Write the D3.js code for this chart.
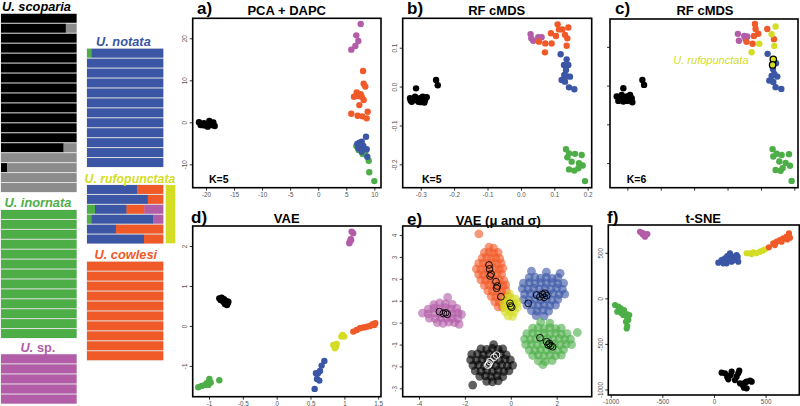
<!DOCTYPE html>
<html><head><meta charset="utf-8">
<script src="https://cdn.jsdelivr.net/npm/d3@7"></script>
<style>body{margin:0;background:#fff}svg{display:block}</style>
</head><body><svg id="c" width="800" height="406"></svg>
<script>
const COL = {k:"#000000", g:"#8c8c8c", G:"#4dae48", b:"#3a56a5", o:"#f05a28", p:"#b35ca8", y:"#d4dd25", Y:"#d4dd25"};
const K = ["k","g","G","b","o","p"];

// ---- STRUCTURE (admixture) rows: fractions in order black, gray, green, blue, orange, purple
const scopariaQ = [[1,0,0,0,0,0],[0.86,0.14,0,0,0,0],[1,0,0,0,0,0],[1,0,0,0,0,0],[1,0,0,0,0,0],[1,0,0,0,0,0],[1,0,0,0,0,0],[1,0,0,0,0,0],[1,0,0,0,0,0],[1,0,0,0,0,0],[1,0,0,0,0,0],[1,0,0,0,0,0],[1,0,0,0,0,0],[0.83,0.17,0,0,0,0],[0,1,0,0,0,0],[0.08,0.92,0,0,0,0],[0,1,0,0,0,0],[0,1,0,0,0,0]];
const inornataQ = Array.from({length:13}, () => [0,0,1,0,0,0]);
const spQ = Array.from({length:5}, () => [0,0,0,0,0,1]);
const notataQ = [[0,0,0.06,0.94,0,0]].concat(Array.from({length:11}, () => [0,0,0,1,0,0]));
const rufoQ = [[0,0,0,0.66,0.34,0],[0,0,0,0.80,0.20,0],[0,0,0.105,0.415,0.235,0.245],[0,0,0.06,0.81,0,0.13],[0,0,0,0.38,0.62,0],[0,0,0,0.75,0.25,0]];
const cowlesiQ = Array.from({length:10}, () => [0,0,0,0,1,0]);

// ---- a) PCA + DAPC
const pcaPts = [
 [-21.25,0,"k"],[-20.77,-0.4,"k"],[-20.36,-0.24,"k"],[-19.88,-0.4,"k"],[-19.4,0.31,"k"],[-18.99,-0.64,"k"],[-18.69,-0.06,"k"],[-18.45,-0.88,"k"],[-20.17,-0.72,"k"],[-20.95,-0.64,"k"],[-19.29,-0.4,"k"],[-19.7,-1.04,"k"],[-20.48,-0.72,"k"],
 [7.57,23.4,"p"],[6.79,20.7,"p"],[7.15,19.36,"p"],[6.62,18.17,"p"],[5.9,17.3,"p"],
 [7.99,12.2,"o"],[8.10,9.2,"o"],[8.4,8.5,"o"],[6.86,7.1,"o"],[7.57,6.7,"o"],[6.38,6.1,"o"],[7.2,6.26,"o"],[7.75,6.1,"o"],[8.1,5.3,"o"],[7.33,4.1,"o"],[5.9,2.05,"o"],[7.03,1.57,"o"],[7.87,1.42,"o"],[8.82,2.52,"o"],[8.64,0.94,"o"],
 [6.79,-5.64,"G"],[7.2,-6.6,"G"],[7.93,-7.55,"G"],[8.4,-7.07,"G"],[9.0,-9.14,"G"],[9.1,-11.9,"G"],[10.0,-14.0,"G"],[7.63,-6.36,"G"],
 [8.52,-3.43,"b"],[7.75,-4.62,"b"],[7.33,-4.85,"b"],[6.97,-5.17,"b"],[8.04,-5.64,"b"],[8.64,-6.43,"b"],[7.75,-7,"b"],[7.33,-5.8,"b"],[8.75,-8.19,"b"],[7.15,-6.2,"b"]
];
const pcaXTicks = [-20,-15,-10,-5,0,5,10];
const pcaYTicks = [-10,0,10,20];

// ---- b) RF cMDS K=5
const cmdsPts = [
 [-0.332,-0.030,"k"],[-0.324,-0.0345,"k"],[-0.317,-0.026,"k"],[-0.310,-0.033,"k"],[-0.302,-0.030,"k"],[-0.294,-0.026,"k"],[-0.287,-0.0345,"k"],[-0.289,-0.041,"k"],[-0.307,-0.039,"k"],[-0.327,-0.039,"k"],[-0.314,-0.0045,"k"],[-0.320,-0.0345,"k"],[-0.297,-0.036,"k"],[-0.282,-0.0275,"k"],[-0.254,0.017,"k"],[-0.249,0.0033,"k"],[-0.330,-0.036,"k"],[-0.300,-0.040,"k"],
 [0.029,0.135,"p"],[0.037,0.118,"p"],[0.052,0.127,"p"],[0.062,0.127,"p"],[0.031,0.124,"p"],
 [0.110,0.160,"o"],[0.114,0.147,"o"],[0.090,0.137,"o"],[0.105,0.130,"o"],[0.054,0.1155,"o"],[0.073,0.111,"o"],[0.092,0.111,"o"],[0.072,0.088,"o"],[0.124,0.147,"o"],[0.132,0.133,"o"],[0.142,0.152,"o"],[0.139,0.124,"o"],[0.137,0.105,"o"],
 [0.119,0.083,"b"],[0.137,0.070,"b"],[0.129,0.0555,"b"],[0.142,0.0555,"b"],[0.135,0.0427,"b"],[0.130,0.030,"b"],[0.147,0.0255,"b"],[0.137,0.027,"b"],[0.122,0.017,"b"],[0.132,0.0127,"b"],[0.144,-0.002,"b"],[0.160,-0.007,"b"],[0.130,0.021,"b"],
 [0.135,-0.161,"G"],[0.144,-0.172,"G"],[0.162,-0.173,"G"],[0.182,-0.176,"G"],[0.139,-0.182,"G"],[0.152,-0.193,"G"],[0.174,-0.197,"G"],[0.185,-0.203,"G"],[0.144,-0.213,"G"],[0.160,-0.216,"G"],[0.172,-0.210,"G"],[0.192,-0.243,"G"]
];
const cmdsXTicks = [-0.3,-0.2,-0.1,0.0,0.1,0.2];
const cmdsYTicks = [-0.2,-0.1,0.0,0.1];

// ---- c) RF cMDS K=6
const cmds6Pts = [
 [-0.332,-0.0283,"k"],[-0.324,-0.035,"k"],[-0.317,-0.024,"k"],[-0.309,-0.0326,"k"],[-0.302,-0.0283,"k"],[-0.294,-0.037,"k"],[-0.287,-0.0326,"k"],[-0.285,-0.043,"k"],[-0.327,-0.0395,"k"],[-0.312,-0.041,"k"],[-0.300,-0.0395,"k"],[-0.312,-0.0068,"k"],[-0.255,0.0147,"k"],[-0.250,0.0018,"k"],[-0.319,-0.030,"k"],[-0.292,-0.024,"k"],
 [0.031,0.1336,"p"],[0.034,0.116,"p"],[0.050,0.128,"p"],[0.059,0.127,"p"],[0.054,0.120,"p"],
 [0.082,0.159,"o"],[0.084,0.146,"o"],[0.092,0.134,"o"],[0.079,0.128,"o"],[0.057,0.113,"o"],[0.075,0.108,"o"],[0.119,0.146,"o"],[0.139,0.120,"o"],
 [0.144,0.1526,"y"],[0.132,0.1327,"y"],[0.140,0.1026,"y"],[0.095,0.108,"y"],[0.072,0.086,"y"],
 [0.120,0.082,"b"],[0.145,0.058,"b"],[0.136,0.043,"b"],[0.140,0.030,"b"],[0.149,0.0233,"b"],[0.132,0.025,"b"],[0.125,0.013,"b"],[0.137,0.0096,"b"],[0.144,-0.004,"b"],[0.161,-0.0085,"b"],
 [0.137,0.068,"Y"],[0.135,0.0535,"Y"],
 [0.135,-0.164,"G"],[0.147,-0.176,"G"],[0.162,-0.179,"G"],[0.184,-0.177,"G"],[0.137,-0.183,"G"],[0.155,-0.196,"G"],[0.174,-0.200,"G"],[0.187,-0.207,"G"],[0.144,-0.218,"G"],[0.159,-0.220,"G"],[0.165,-0.213,"G"],[0.192,-0.246,"G"]
];

// ---- d) VAE
const vaePts = [
 [1.107,2.36,"p"],[1.13,2.32,"p"],[1.093,2.17,"p"],[1.073,2.07,"p"],[1.08,2.11,"p"],[1.10,2.15,"p"],
 [-0.848,0.69,"k"],[-0.813,0.708,"k"],[-0.778,0.667,"k"],[-0.749,0.625,"k"],[-0.724,0.567,"k"],[-0.734,0.525,"k"],[-0.788,0.608,"k"],[-0.828,0.65,"k"],[-0.764,0.55,"k"],[-0.714,0.608,"k"],
 [1.132,-0.142,"o"],[1.181,-0.1,"o"],[1.23,-0.058,"o"],[1.27,-0.042,"o"],[1.304,-0.033,"o"],[1.339,-0.017,"o"],[1.378,0,"o"],[1.418,0.042,"o"],[1.442,0.025,"o"],[1.457,0.067,"o"],
 [0.974,-0.225,"y"],[0.999,-0.267,"y"],[0.955,-0.267,"y"],[0.836,-0.475,"y"],[0.876,-0.517,"y"],[0.886,-0.45,"y"],[0.861,-0.558,"y"],
 [0.704,-0.875,"b"],[0.664,-0.992,"b"],[0.640,-1.125,"b"],[0.580,-1.183,"b"],[0.61,-1.183,"b"],[0.595,-1.325,"b"],[0.63,-1.367,"b"],[0.561,-1.575,"b"],
 [-0.995,-1.325,"G"],[-0.975,-1.417,"G"],[-1.01,-1.475,"G"],[-1.059,-1.475,"G"],[-1.108,-1.5,"G"],[-1.158,-1.533,"G"],[-0.848,-1.358,"G"],[-1.034,-1.433,"G"]
];
const vaeXTicks = [-1,-0.5,0,0.5,1,1.5];
const vaeYTicks = [-1,0,1,2];

// ---- e) VAE (mu and sigma): sampled clouds
const cloudPts = [
 [-2.75,1.15,"p"],[-3.35,0.82,"p"],[-3.1,0.9,"p"],[-2.85,0.86,"p"],[-2.55,0.83,"p"],[-3.6,0.62,"p"],[-3.35,0.66,"p"],[-3.1,0.63,"p"],[-2.85,0.68,"p"],[-2.6,0.62,"p"],[-2.35,0.65,"p"],[-3.85,0.43,"p"],[-3.6,0.4,"p"],[-3.3,0.45,"p"],[-3.05,0.4,"p"],[-2.8,0.44,"p"],[-2.55,0.41,"p"],[-2.3,0.44,"p"],[-2.15,0.38,"p"],[-3.55,0.2,"p"],[-3.3,0.18,"p"],[-3.05,0.22,"p"],[-2.8,0.2,"p"],[-2.55,0.2,"p"],[-2.3,0.18,"p"],[-3.2,0.0,"p"],[-2.95,-0.03,"p"],[-2.7,0.02,"p"],[-2.45,0.0,"p"],[-2.25,-0.08,"p"],
 [-1.39,4.05,"o"],[-0.95,3.45,"o"],[-0.75,3.4,"o"],[-1.15,3.2,"o"],[-0.95,3.22,"o"],[-0.75,3.18,"o"],[-0.55,3.2,"o"],[-1.25,2.95,"o"],[-1.05,2.98,"o"],[-0.85,2.93,"o"],[-0.65,2.97,"o"],[-0.48,2.92,"o"],[-1.4,2.7,"o"],[-1.2,2.72,"o"],[-1.0,2.68,"o"],[-0.8,2.73,"o"],[-0.6,2.68,"o"],[-0.42,2.7,"o"],[-1.5,2.45,"o"],[-1.3,2.42,"o"],[-1.1,2.47,"o"],[-0.9,2.43,"o"],[-0.7,2.46,"o"],[-0.5,2.42,"o"],[-0.35,2.48,"o"],[-1.4,2.2,"o"],[-1.2,2.18,"o"],[-1.0,2.22,"o"],[-0.8,2.17,"o"],[-0.6,2.22,"o"],[-0.4,2.2,"o"],[-1.3,1.95,"o"],[-1.1,1.93,"o"],[-0.9,1.97,"o"],[-0.7,1.93,"o"],[-0.5,1.96,"o"],[-0.3,1.92,"o"],[-1.15,1.7,"o"],[-0.95,1.72,"o"],[-0.75,1.68,"o"],[-0.55,1.72,"o"],[-0.35,1.68,"o"],[-0.22,1.72,"o"],[-1.0,1.45,"o"],[-0.8,1.43,"o"],[-0.6,1.47,"o"],[-0.4,1.43,"o"],[-0.2,1.46,"o"],[-0.85,1.2,"o"],[-0.65,1.18,"o"],[-0.45,1.22,"o"],[-0.25,1.18,"o"],[-0.12,1.22,"o"],[-0.7,0.95,"o"],[-0.5,0.93,"o"],[-0.3,0.97,"o"],[-0.15,0.9,"o"],[-0.55,0.72,"o"],[-0.35,0.7,"o"],
 [0.9,2.35,"b"],[1.55,2.3,"b"],[2.15,2.25,"b"],[0.8,2.05,"b"],[1.05,2.08,"b"],[1.3,2.03,"b"],[1.55,2.07,"b"],[1.8,2.02,"b"],[2.05,2.05,"b"],[0.55,1.8,"b"],[0.8,1.82,"b"],[1.05,1.78,"b"],[1.3,1.83,"b"],[1.55,1.79,"b"],[1.8,1.82,"b"],[2.05,1.78,"b"],[2.3,1.8,"b"],[0.5,1.55,"b"],[0.75,1.53,"b"],[1.0,1.57,"b"],[1.25,1.53,"b"],[1.5,1.57,"b"],[1.75,1.53,"b"],[2.0,1.57,"b"],[2.25,1.52,"b"],[0.6,1.3,"b"],[0.85,1.32,"b"],[1.1,1.28,"b"],[1.35,1.32,"b"],[1.6,1.28,"b"],[1.85,1.32,"b"],[2.1,1.28,"b"],[2.35,1.3,"b"],[0.55,1.05,"b"],[0.8,1.03,"b"],[1.05,1.07,"b"],[1.3,1.03,"b"],[1.55,1.07,"b"],[1.8,1.03,"b"],[2.05,1.06,"b"],[0.7,0.8,"b"],[0.95,0.82,"b"],[1.2,0.78,"b"],[1.45,0.82,"b"],[1.7,0.78,"b"],[1.95,0.8,"b"],[0.9,0.55,"b"],[1.15,0.53,"b"],[1.4,0.57,"b"],[1.65,0.53,"b"],[1.1,0.32,"b"],[1.45,0.3,"b"],
 [1.3,0.02,"G"],[1.7,-0.02,"G"],[0.95,-0.25,"G"],[1.2,-0.23,"G"],[1.45,-0.27,"G"],[1.7,-0.23,"G"],[1.95,-0.27,"G"],[2.2,-0.25,"G"],[0.7,-0.5,"G"],[0.95,-0.48,"G"],[1.2,-0.52,"G"],[1.45,-0.48,"G"],[1.7,-0.52,"G"],[1.95,-0.48,"G"],[2.2,-0.52,"G"],[2.45,-0.5,"G"],[2.9,-0.45,"G"],[0.6,-0.75,"G"],[0.85,-0.77,"G"],[1.1,-0.73,"G"],[1.35,-0.77,"G"],[1.6,-0.73,"G"],[1.85,-0.77,"G"],[2.1,-0.73,"G"],[2.35,-0.77,"G"],[2.6,-0.75,"G"],[0.65,-1.0,"G"],[0.9,-0.98,"G"],[1.15,-1.02,"G"],[1.4,-0.98,"G"],[1.65,-1.02,"G"],[1.9,-0.98,"G"],[2.15,-1.02,"G"],[2.4,-0.98,"G"],[2.65,-1.0,"G"],[0.8,-1.25,"G"],[1.05,-1.27,"G"],[1.3,-1.23,"G"],[1.55,-1.27,"G"],[1.8,-1.23,"G"],[2.05,-1.27,"G"],[2.3,-1.23,"G"],[0.95,-1.5,"G"],[1.2,-1.48,"G"],[1.45,-1.52,"G"],[1.7,-1.48,"G"],[1.95,-1.52,"G"],[2.2,-1.48,"G"],[1.2,-1.75,"G"],[1.5,-1.78,"G"],[1.8,-1.73,"G"],[1.4,-1.92,"G"],
 [-0.75,-1.0,"k"],[-1.3,-1.2,"k"],[-1.05,-1.22,"k"],[-0.8,-1.18,"k"],[-0.55,-1.22,"k"],[-0.35,-1.2,"k"],[-1.7,-1.45,"k"],[-1.45,-1.43,"k"],[-1.2,-1.47,"k"],[-0.95,-1.43,"k"],[-0.7,-1.47,"k"],[-0.45,-1.43,"k"],[-0.2,-1.47,"k"],[-1.75,-1.7,"k"],[-1.5,-1.72,"k"],[-1.25,-1.68,"k"],[-1.0,-1.72,"k"],[-0.75,-1.68,"k"],[-0.5,-1.72,"k"],[-0.25,-1.68,"k"],[-0.02,-1.7,"k"],[-1.65,-1.95,"k"],[-1.4,-1.93,"k"],[-1.15,-1.97,"k"],[-0.9,-1.93,"k"],[-0.65,-1.97,"k"],[-0.4,-1.93,"k"],[-0.15,-1.97,"k"],[0.08,-1.95,"k"],[-1.55,-2.2,"k"],[-1.3,-2.22,"k"],[-1.05,-2.18,"k"],[-0.8,-2.22,"k"],[-0.55,-2.18,"k"],[-0.3,-2.22,"k"],[-0.08,-2.2,"k"],[-1.35,-2.45,"k"],[-1.1,-2.43,"k"],[-0.85,-2.47,"k"],[-0.6,-2.43,"k"],[-0.35,-2.47,"k"],[-1.05,-2.68,"k"],[-0.8,-2.7,"k"],[-0.55,-2.66,"k"],[-1.66,-2.85,"k"],
 [-0.22,1.1,"y"],[0.0,1.12,"y"],[0.2,1.08,"y"],[-0.05,1.3,"y"],[-0.3,0.9,"y"],[-0.1,0.92,"y"],[0.1,0.88,"y"],[0.28,0.9,"y"],[-0.28,0.7,"y"],[-0.08,0.68,"y"],[0.12,0.72,"y"],[0.28,0.68,"y"],[-0.25,0.5,"y"],[-0.05,0.52,"y"],[0.15,0.48,"y"],[-0.12,0.3,"y"],[0.08,0.28,"y"]
];
// means (mu), drawn as open circles; "w" = white outline
const muPts = [
 [-3.11,0.50,"k"],[-2.94,0.42,"k"],[-2.84,0.45,"k"],[-2.77,0.38,"k"],
 [-0.95,2.63,"k"],[-0.93,2.45,"k"],[-0.86,2.22,"k"],[-0.90,2.13,"k"],[-0.645,1.87,"k"],[-0.59,1.67,"k"],[-0.62,1.57,"k"],[-0.43,1.18,"k"],
 [-0.035,0.88,"k"],[0.0,0.76,"k"],[0.04,0.70,"k"],
 [0.76,0.88,"k"],[1.13,1.26,"k"],[1.27,1.18,"k"],[1.39,1.29,"k"],[1.49,1.34,"k"],[1.45,1.15,"k"],[1.56,1.23,"k"],
 [1.27,-0.69,"k"],[1.56,-0.87,"k"],[1.68,-0.95,"k"],[1.74,-1.05,"k"],[1.82,-1.10,"k"],[1.63,-1.02,"k"],
 [-0.62,-1.48,"w"],[-0.73,-1.58,"w"],[-0.91,-1.78,"w"],[-0.96,-1.89,"w"],[-1.0,-1.94,"w"]
];
const eXTicks = [-4,-2,0,2];
const eYTicks = [-3,-2,-1,0,1,2,3,4];

// ---- f) t-SNE
const tsnePts = [
 [-716,731,"p"],[-684,713,"p"],[-658,695,"p"],[-668,676,"p"],[-700,720,"p"],[-645,706,"p"],[-690,700,"p"],
 [42,391,"b"],[74,420,"b"],[106,439,"b"],[129,464,"b"],[155,494,"b"],[181,457,"b"],[203,439,"b"],[219,475,"b"],[235,402,"b"],[171,402,"b"],[123,384,"b"],[90,384,"b"],[194,420,"b"],[148,428,"b"],[230,455,"b"],
 [316,494,"y"],[349,494,"y"],[381,505,"y"],[413,494,"y"],[445,512,"y"],[471,523,"y"],[494,538,"y"],[365,486,"y"],
 [532,560,"o"],[574,603,"o"],[607,622,"o"],[639,640,"o"],[671,659,"o"],[703,677,"o"],[726,713,"o"],[736,665,"o"],[709,647,"o"],[655,622,"o"],[590,585,"o"],
 [-958,-74,"G"],[-926,-92,"G"],[-903,-110,"G"],[-936,-147,"G"],[-894,-165,"G"],[-878,-183,"G"],[-845,-172,"G"],[-820,-183,"G"],[-839,-220,"G"],[-852,-257,"G"],[-839,-304,"G"],[-845,-330,"G"],[-916,-128,"G"],[-871,-128,"G"],[-829,-238,"G"],
 [74,-816,"k"],[106,-823,"k"],[129,-867,"k"],[161,-842,"k"],[203,-897,"k"],[235,-823,"k"],[245,-794,"k"],[219,-860,"k"],[252,-933,"k"],[277,-952,"k"],[300,-926,"k"],[316,-915,"k"],[349,-904,"k"],[365,-915,"k"],[290,-981,"k"],[316,-988,"k"],[171,-805,"k"],[139,-889,"k"]
];
const tsneXTicks = [-1000,-500,0,500];
const tsneYTicks = [-1000,-500,0,500];

const svg = d3.select("#c");
const FONT = "'Liberation Sans', Arial, sans-serif";

// ---------- structure plot
function drawStruct(rows, x0, x1, top, bottom){
  const band = d3.scaleBand().domain(d3.range(rows.length)).range([top, bottom]).paddingInner(0.1);
  const sx = d3.scaleLinear().domain([0,1]).range([x0, x1]);
  const g = svg.append("g");
  g.append("rect").attr("x",x0-0.5).attr("y",top-0.5).attr("width",x1-x0+1).attr("height",bottom-top+1).attr("fill","#e4e4e4");
  rows.forEach((r, i) => {
    let cum = 0;
    r.forEach((f, j) => {
      if (f <= 0) return;
      g.append("rect").attr("x", sx(cum)).attr("y", band(i))
        .attr("width", sx(cum + f) - sx(cum) + 0.3).attr("height", band.bandwidth())
        .attr("fill", COL[K[j]]);
      cum += f;
    });
  });
}
drawStruct(scopariaQ, 1, 76.3, 13.8, 192);
drawStruct(inornataQ, 1, 76.3, 210, 338);
drawStruct(spQ, 1, 76.3, 354.3, 403.6);
drawStruct(notataQ, 87, 163, 48.7, 167);
drawStruct(rufoQ, 87, 163, 185, 243.5);
drawStruct(cowlesiQ, 87, 163, 261.7, 360.2);
svg.append("rect").attr("x",165.7).attr("y",185).attr("width",9.6).attr("height",58.3).attr("fill",COL.y);

function lab(x, y, t, c, size, anchor){
  return svg.append("text").attr("x",x).attr("y",y).attr("fill",c).attr("font-family",FONT)
    .attr("font-size",size).attr("font-weight","bold").attr("font-style","italic")
    .attr("text-anchor",anchor||"start").text(t);
}
lab(2, 10.5, "U. scoparia", "#000", 12.8);
lab(96, 45.5, "U. notata", COL.b, 12.8);
lab(84.5, 182.5, "U. rufopunctata", COL.y, 12.3);
lab(4.5, 206.5, "U. inornata", COL.G, 12.8);
lab(94.5, 259, "U. cowlesi", COL.o, 12.8);
const sp = svg.append("text").attr("x",38).attr("y",351.5).attr("fill",COL.p).attr("font-family",FONT)
  .attr("font-size",12.8).attr("font-weight","bold").attr("text-anchor","middle");
sp.append("tspan").attr("font-style","italic").text("U.");
sp.append("tspan").text(" sp.");

// ---------- scatter panels
function panel(o){
  const g = svg.append("g");
  const sx = d3.scaleLinear().domain(o.xd).range([o.box[0], o.box[2]]);
  const sy = d3.scaleLinear().domain(o.yd).range([o.box[3], o.box[1]]);
  const xa = d3.axisBottom(sx).tickValues(o.xt).tickSize(3).tickPadding(1.5).tickFormat(o.labels ? o.fx : () => "");
  const ya = d3.axisLeft(sy).tickValues(o.yt).tickSize(3).tickFormat(o.labels ? o.fy : () => "");
  const gx = g.append("g").attr("transform", `translate(0,${o.box[3]})`).call(xa);
  const gy = g.append("g").attr("transform", `translate(${o.box[0]},0)`).call(ya);
  [gx, gy].forEach(a => {
    a.select(".domain").remove();
    a.selectAll("line").attr("stroke","#000").attr("stroke-width",0.8);
    a.selectAll("text").attr("font-family",FONT).attr("font-size",6.3).attr("fill","#555");
  });
  gy.selectAll("text").attr("x",0).attr("dy",0).attr("text-anchor","middle")
    .attr("transform","translate(-5.5,0) rotate(-90)");
  const pts = g.append("g");
  if (o.cloud) {
    pts.selectAll("circle.c").data(o.cloud).join("circle")
      .attr("cx", d => sx(d[0])).attr("cy", d => sy(d[1])).attr("r", 4.4)
      .attr("fill", d => COL[d[2]]).attr("fill-opacity", 0.62);
  }
  if (o.pts) {
    pts.selectAll("circle.p").data(o.pts).join("circle")
      .attr("cx", d => sx(d[0])).attr("cy", d => sy(d[1])).attr("r", o.r || 3.2)
      .attr("fill", d => COL[d[2]])
      .attr("stroke", d => d[2] === "Y" ? "#000" : "none").attr("stroke-width", 1.3);
  }
  if (o.mu) {
    g.append("g").selectAll("circle").data(o.mu).join("circle")
      .attr("cx", d => sx(d[0])).attr("cy", d => sy(d[1])).attr("r", 3.4)
      .attr("fill","none").attr("stroke", d => d[2] === "w" ? "#fff" : "#000").attr("stroke-width", 0.9);
  }
  g.append("rect").attr("x",o.box[0]).attr("y",o.box[1]).attr("width",o.box[2]-o.box[0])
    .attr("height",o.box[3]-o.box[1]).attr("fill","none").attr("stroke","#000").attr("stroke-width",1.6);
  g.append("text").attr("x",o.letter[0]).attr("y",o.letter[1]).attr("font-family",FONT)
    .attr("font-size",17).attr("font-weight","bold").text(o.letter[2]);
  g.append("text").attr("x",o.title[0]).attr("y",o.title[1]).attr("font-family",FONT)
    .attr("font-size",13).attr("font-weight","bold").attr("text-anchor","middle").text(o.title[2]);
  if (o.k) g.append("text").attr("x",o.k[0]).attr("y",o.k[1]).attr("font-family",FONT)
    .attr("font-size",10.5).attr("font-weight","bold").text(o.k[2]);
  return {g, sx, sy};
}
const f1 = d => String(d);
const f2 = d => d.toFixed(1);

panel({box:[192.7,18.3,381,187.7], xd:[-22.37,11.19], yd:[-15.57,24.76], xt:pcaXTicks, yt:pcaYTicks,
  labels:true, fx:f1, fy:f1, pts:pcaPts, letter:[197,13.5,"a)"], title:[286.7,14.5,"PCA + DAPC"], k:[209,183,"K=5"]});
panel({box:[402.7,18.3,591.7,187.7], xd:[-0.354,0.212], yd:[-0.26,0.1756], xt:cmdsXTicks, yt:cmdsYTicks,
  labels:true, fx:f2, fy:f2, pts:cmdsPts, letter:[407,13.5,"b)"], title:[496.7,14.5,"RF cMDS"], k:[422,183,"K=5"]});
const pc = panel({box:[610,19,798,187.7], xd:[-0.352,0.211], yd:[-0.2636,0.172], xt:cmdsXTicks, yt:cmdsYTicks,
  labels:false, pts:cmds6Pts, letter:[615,13.5,"c)"], title:[705,14.5,"RF cMDS"], k:[626.7,183,"K=6"]});
pc.g.append("text").attr("x",673.3).attr("y",63.5).attr("font-family",FONT).attr("font-size",11)
  .attr("font-style","italic").attr("fill",COL.y).text("U. rufopunctata");
panel({box:[192.7,226,381,396.7], xd:[-1.241,1.541], yd:[-1.77,2.5], xt:vaeXTicks, yt:vaeYTicks,
  labels:true, fx:f1, fy:f1, pts:vaePts, letter:[191,222.5,"d)"], title:[286.7,223,"VAE"]});
panel({box:[402.7,226,591.7,396.7], xd:[-4.71,3.525], yd:[-3.38,4.41], xt:eXTicks, yt:eYTicks,
  labels:true, fx:f1, fy:f1, cloud:cloudPts, mu:muPts, letter:[407,225,"e)"], title:[498.3,224.5,"VAE (μ and σ)"]});
panel({box:[608.3,225,799.3,395], xd:[-1023,826], yd:[-1061,805], xt:tsneXTicks, yt:tsneYTicks,
  labels:true, fx:f1, fy:f1, pts:tsnePts, r:3.1, letter:[607,222.5,"f)"], title:[703.3,223,"t-SNE"]});
</script></body></html>
